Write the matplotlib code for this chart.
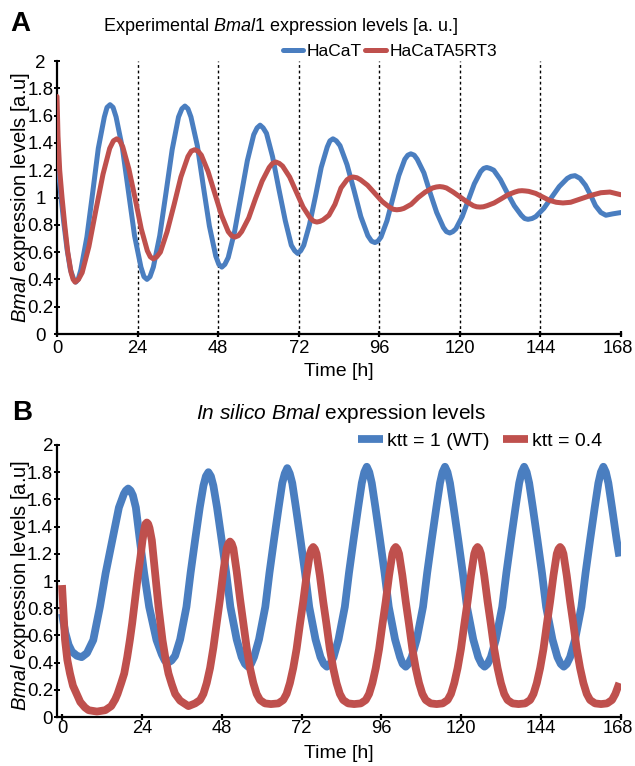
import matplotlib
matplotlib.use("Agg")
import matplotlib.pyplot as plt
from matplotlib.ticker import FuncFormatter
from matplotlib.transforms import ScaledTranslation

plt.rcParams['font.family'] = ['Liberation Sans', 'DejaVu Sans']
plt.rcParams['mathtext.fontset'] = 'custom'
plt.rcParams['mathtext.rm'] = 'Liberation Sans'
plt.rcParams['mathtext.it'] = 'Liberation Sans:italic'
plt.rcParams['mathtext.bf'] = 'Liberation Sans:bold'

# ---------------- data ----------------
x_ticks = [0, 24, 48, 72, 96, 120, 144, 168]
y_ticks = [0, 0.2, 0.4, 0.6, 0.8, 1.0, 1.2, 1.4, 1.6, 1.8, 2.0]
day_lines = [24, 48, 72, 96, 120, 144]

# Panel A: experimental
t_hacat = [0, 1, 2, 3, 4, 5, 5.6, 6.3, 7.1, 8.9, 10.6, 12.3, 14.1, 14.9, 15.8, 16.7, 17.6,
           19.5, 21.3, 23.1, 25.0, 25.9, 26.8, 27.7, 28.7, 30.6, 32.5, 34.3, 36.2, 37.2,
           38.1, 39.0, 39.9, 41.8, 43.6, 45.4, 47.3, 48.2, 49.1, 50.0, 51.0, 52.9, 54.8,
           56.7, 58.6, 59.6, 60.5, 61.4, 62.4, 64.2, 66.1, 68.0, 69.8, 70.8, 71.7, 72.6,
           73.5, 75.2, 77.0, 78.7, 80.5, 81.3, 82.2, 83.2, 84.3, 86.4, 88.5, 90.5, 92.6,
           93.7, 94.7, 95.6, 96.5, 98.3, 100.1, 101.8, 103.6, 104.5, 105.4, 106.4, 107.3,
           109.3, 111.2, 113.1, 115.1, 116.0, 117.0, 117.9, 118.8, 120.7, 122.5, 124.3,
           126.2, 127.1, 128.0, 129.0, 130.1, 132.1, 134.2, 136.2, 138.3, 139.3, 140.3,
           141.5, 142.6, 145.0, 147.3, 149.6, 152.0, 153.1, 154.3, 155.8, 157.4, 158.9,
           160.4, 162.0, 163.5, 165.5, 168]
v_hacat = [1.32, 1.05, 0.82, 0.62, 0.47, 0.40, 0.38, 0.40, 0.47, 0.71, 1.03, 1.36, 1.59,
           1.66, 1.68, 1.66, 1.59, 1.36, 1.04, 0.72, 0.49, 0.42, 0.40, 0.42, 0.49, 0.72,
           1.04, 1.35, 1.59, 1.65, 1.67, 1.65, 1.59, 1.38, 1.08, 0.79, 0.57, 0.51, 0.49,
           0.51, 0.56, 0.75, 1.01, 1.27, 1.46, 1.51, 1.53, 1.51, 1.47, 1.30, 1.06, 0.83,
           0.65, 0.61, 0.59, 0.61, 0.65, 0.80, 1.01, 1.22, 1.37, 1.415, 1.43, 1.415, 1.38,
           1.24, 1.05, 0.86, 0.72, 0.68, 0.67, 0.68, 0.71, 0.83, 1.00, 1.16, 1.28, 1.31,
           1.32, 1.31, 1.28, 1.18, 1.03, 0.89, 0.78, 0.75, 0.74, 0.75, 0.77, 0.86, 0.98,
           1.10, 1.19, 1.213, 1.22, 1.213, 1.20, 1.13, 1.03, 0.94, 0.87, 0.846, 0.84,
           0.846, 0.86, 0.92, 1.00, 1.08, 1.14, 1.155, 1.16, 1.14, 1.09, 1.02, 0.94, 0.89,
           0.87, 0.88, 0.89]

t_a5rt3 = [0, 0.3, 0.8, 1.5, 2.3, 3.2, 4.2, 4.8, 5.4, 6.4, 7.5, 9.5, 11.6, 13.7, 15.7,
           16.8, 17.8, 18.7, 19.6, 21.4, 23.3, 25.1, 26.9, 27.8, 28.7, 29.7, 30.8, 32.8,
           34.9, 36.9, 39.0, 40.0, 41.0, 42.0, 43.0, 45.0, 47.0, 49.0, 51.0, 52.0, 53.0,
           54.0, 55.0, 57.1, 59.1, 61.1, 63.2, 64.2, 65.2, 66.2, 67.2, 69.3, 71.3, 73.3,
           75.4, 76.4, 77.4, 78.3, 79.2, 81.0, 82.8, 84.6, 86.4, 87.3, 88.2, 89.3, 90.4,
           92.5, 94.7, 96.9, 99.0, 100.1, 101.2, 102.3, 103.3, 105.5, 107.6, 109.7, 111.9,
           113.0, 114.0, 115.0, 116.0, 118.0, 120.0, 122.0, 124.0, 125.0, 126.0, 127.0,
           128.1, 130.2, 132.3, 134.3, 136.4, 137.5, 138.5, 139.5, 140.5, 142.6, 144.6,
           146.6, 148.7, 150.7, 153.0, 156.0, 159.0, 162.0, 164.7, 168.0]
v_a5rt3 = [1.74, 1.45, 1.20, 1.00, 0.80, 0.60, 0.45, 0.40, 0.38, 0.40, 0.45, 0.64, 0.91,
           1.17, 1.36, 1.415, 1.43, 1.415, 1.37, 1.21, 0.99, 0.77, 0.61, 0.565, 0.55,
           0.565, 0.60, 0.75, 0.95, 1.15, 1.30, 1.34, 1.35, 1.34, 1.31, 1.19, 1.03, 0.87,
           0.75, 0.72, 0.71, 0.72, 0.75, 0.85, 0.99, 1.12, 1.22, 1.25, 1.26, 1.25, 1.23,
           1.15, 1.04, 0.93, 0.85, 0.827, 0.82, 0.825, 0.835, 0.87, 0.95, 1.07, 1.13,
           1.145, 1.15, 1.145, 1.13, 1.09, 1.03, 0.97, 0.93, 0.914, 0.91, 0.913, 0.92,
           0.95, 1.00, 1.04, 1.07, 1.077, 1.08, 1.077, 1.07, 1.04, 1.005, 0.97, 0.94,
           0.932, 0.93, 0.932, 0.94, 0.96, 0.99, 1.02, 1.04, 1.048, 1.05, 1.048, 1.045,
           1.03, 1.005, 0.98, 0.965, 0.96, 0.965, 0.99, 1.015, 1.035, 1.04, 1.02]

# Panel B: in silico
t_wt = [0, 1, 2, 3, 4.5, 5.9, 7.5, 9.4, 11.4, 13.1, 15.1, 17.1, 18.6, 19.2, 19.9, 20.6,
        21.3, 22.2, 23.4, 24.7, 26.2, 28.4, 30.0, 30.9, 31.9, 32.9,
        34.0, 35.5, 37.4, 38.65, 40.0, 41.4, 42.5, 43.25, 44.0, 44.75, 45.5, 46.6, 48.0,
        49.35, 50.6, 52.5, 54.0, 55.0, 55.9,
        56.8, 57.7, 59.2, 61.1, 62.35, 63.7, 65.1, 66.2, 66.95, 67.7, 68.45, 69.2, 70.3,
        71.7, 73.05, 74.3, 76.2, 77.7, 78.7, 79.6,
        80.6, 81.6, 83.1, 85.0, 86.25, 87.6, 89.0, 90.1, 90.85, 91.6, 92.35, 93.1, 94.2,
        95.6, 96.95, 98.2, 100.1, 101.6, 102.4, 103.3,
        104.1, 105.1, 106.6, 108.5, 109.75, 111.1, 112.5, 113.6, 114.35, 115.1, 115.85,
        116.6, 117.7, 119.1, 120.45, 121.7, 123.6, 125.1, 126.1, 127.0,
        127.9, 128.9, 130.4, 132.3, 133.55, 134.9, 136.3, 137.4, 138.15, 138.9, 139.65,
        140.4, 141.5, 142.9, 144.25, 145.5, 147.4, 148.9, 149.9, 150.8,
        151.7, 152.7, 154.2, 156.1, 157.35, 158.7, 160.1, 161.2, 161.95, 162.7, 163.45,
        164.2, 165.3, 166.7, 167.5]
v_wt = [0.76, 0.62, 0.53, 0.48, 0.45, 0.44, 0.47, 0.566, 0.81, 1.056, 1.30, 1.54, 1.64,
        1.665, 1.68, 1.665, 1.63, 1.54, 1.30, 1.056, 0.81, 0.566, 0.46, 0.415, 0.40, 0.415,
        0.45, 0.57, 0.81, 1.06, 1.30, 1.54, 1.70, 1.77, 1.80, 1.77, 1.70, 1.54, 1.30,
        1.06, 0.81, 0.57, 0.44, 0.39, 0.37,
        0.39, 0.44, 0.57, 0.81, 1.06, 1.30, 1.54, 1.72, 1.79, 1.83, 1.79, 1.72, 1.54,
        1.30, 1.06, 0.81, 0.57, 0.44, 0.39, 0.37,
        0.39, 0.44, 0.57, 0.81, 1.06, 1.30, 1.54, 1.72, 1.80, 1.84, 1.80, 1.72, 1.54,
        1.30, 1.06, 0.81, 0.57, 0.44, 0.39, 0.37,
        0.39, 0.44, 0.57, 0.81, 1.06, 1.30, 1.54, 1.72, 1.80, 1.84, 1.80, 1.72, 1.54,
        1.30, 1.06, 0.81, 0.57, 0.44, 0.39, 0.37,
        0.39, 0.44, 0.57, 0.81, 1.06, 1.30, 1.54, 1.72, 1.80, 1.84, 1.80, 1.72, 1.54,
        1.30, 1.06, 0.81, 0.57, 0.44, 0.39, 0.37,
        0.39, 0.44, 0.57, 0.81, 1.06, 1.30, 1.54, 1.72, 1.80, 1.84, 1.80, 1.72, 1.54,
        1.30, 1.18]

t_ktt04 = [0, 0.9, 1.6, 2.4, 3.3, 4.4, 5.5, 6.9, 8.0, 10.5, 13.0, 14.8, 16.0, 16.7, 17.8,
           18.7, 19.6, 20.4, 21.1, 21.7, 22.3, 22.9, 23.6, 24.2, 24.8, 25.1, 25.5, 25.9,
           26.3, 27.0, 28.0, 29.0, 30.2, 31.1, 32.0, 33.0, 34.0, 35.5, 38.0,
           40.0, 41.5, 42.5, 43.5, 44.5, 45.5, 46.5, 47.5, 48.5, 49.5, 50.0, 50.5, 51.0,
           51.5, 52.5, 53.5, 54.5, 55.5, 56.5, 57.5, 58.5, 59.5, 61.0, 62.8,
           65.0, 66.5, 67.5, 68.5, 69.5, 70.5, 71.5, 72.5, 73.5, 74.5, 75.0, 75.5, 76.0,
           76.5, 77.5, 78.5, 79.5, 80.5, 81.5, 82.5, 83.5, 84.5, 86.0, 87.8,
           89.8, 91.3, 92.3, 93.3, 94.3, 95.3, 96.3, 97.3, 98.3, 99.3, 99.8, 100.3, 100.8,
           101.3, 102.3, 103.3, 104.3, 105.3, 106.3, 107.3, 108.3, 109.3, 110.8, 112.6,
           114.4, 115.9, 116.9, 117.9, 118.9, 119.9, 120.9, 121.9, 122.9, 123.9, 124.4,
           124.9, 125.4, 125.9, 126.9, 127.9, 128.9, 129.9, 130.9, 131.9, 132.9, 133.9,
           135.4, 137.2,
           139.2, 140.7, 141.7, 142.7, 143.7, 144.7, 145.7, 146.7, 147.7, 148.7, 149.2,
           149.7, 150.2, 150.7, 151.7, 152.7, 153.7, 154.7, 155.7, 156.7, 157.7, 158.7,
           160.2, 162.0,
           163.8, 165.3, 166.3, 167.5]
v_ktt04 = [0.97, 0.57, 0.42, 0.32, 0.23, 0.17, 0.11, 0.07, 0.05, 0.04, 0.05, 0.08, 0.13,
           0.17, 0.25, 0.32, 0.44, 0.566, 0.69, 0.81, 0.93, 1.056, 1.18, 1.30, 1.39, 1.42,
           1.43, 1.42, 1.39, 1.30, 1.056, 0.81, 0.566, 0.43, 0.32, 0.24, 0.17, 0.12, 0.08,
           0.10, 0.125, 0.17, 0.25, 0.36, 0.51, 0.69, 0.87, 1.07, 1.24, 1.275, 1.29, 1.275,
           1.24, 1.07, 0.87, 0.69, 0.51, 0.36, 0.25, 0.17, 0.125, 0.10, 0.095,
           0.10, 0.125, 0.17, 0.25, 0.36, 0.50, 0.68, 0.85, 1.04, 1.20, 1.235, 1.25, 1.235,
           1.20, 1.04, 0.85, 0.68, 0.50, 0.36, 0.25, 0.17, 0.125, 0.10, 0.095,
           0.10, 0.125, 0.17, 0.25, 0.36, 0.50, 0.68, 0.85, 1.04, 1.20, 1.235, 1.25, 1.235,
           1.20, 1.04, 0.85, 0.68, 0.50, 0.36, 0.25, 0.17, 0.125, 0.10, 0.095,
           0.10, 0.125, 0.17, 0.25, 0.36, 0.50, 0.68, 0.85, 1.04, 1.20, 1.235,
           1.25, 1.235, 1.20, 1.04, 0.85, 0.68, 0.50, 0.36, 0.25, 0.17, 0.125,
           0.10, 0.095,
           0.10, 0.125, 0.17, 0.25, 0.36, 0.50, 0.68, 0.85, 1.04, 1.20, 1.235,
           1.25, 1.235, 1.20, 1.04, 0.85, 0.68, 0.50, 0.36, 0.25, 0.17, 0.125,
           0.10, 0.095,
           0.10, 0.125, 0.17, 0.25]

BLUE = '#4A7EC0'
RED = '#BF504D'

W, H = 635, 766
fig = plt.figure(figsize=(W / 100, H / 100), dpi=100)


def fx(px):
    return px / W


def fy(py):
    return 1 - py / H


fmt = FuncFormatter(lambda v, p: '%g' % round(v, 1))


def style_axes(ax, xl, ylab_pad, ylab_ha, xpad):
    ax.set_xlim(*xl)
    ax.set_ylim(0, 2)
    ax.set_xticks(x_ticks)
    ax.set_yticks(y_ticks)
    ax.yaxis.set_major_formatter(fmt)
    for s in ['top', 'right']:
        ax.spines[s].set_visible(False)
    for s in ['left', 'bottom']:
        ax.spines[s].set_linewidth(1.6)
    ax.tick_params(axis='x', direction='inout', length=5, width=1.6, labelsize=13.2, pad=xpad)
    ax.tick_params(axis='y', direction='inout', length=5, width=1.4, labelsize=13.5, pad=ylab_pad)
    for lab in ax.get_yticklabels():
        lab.set_horizontalalignment(ylab_ha)
    # the last x label sits slightly left of its tick, as in the reference
    last = ax.get_xticklabels()[-1]
    last.set_transform(last.get_transform() + ScaledTranslation(-3 / 100, 0, fig.dpi_scale_trans))


# ---------------- Panel A ----------------
axA = fig.add_axes([fx(57), fy(334), fx(564), 273 / H])
for d in day_lines:
    axA.axvline(d, ymin=0, ymax=1, color='black', lw=1.0, linestyle=(0, (2, 2)), zorder=1)
axA.plot(t_hacat, v_hacat, color=BLUE, lw=3.6, solid_joinstyle='round',
         solid_capstyle='round', label='HaCaT', zorder=3)
axA.plot(t_a5rt3, v_a5rt3, color=RED, lw=3.6, solid_joinstyle='round',
         solid_capstyle='round', label='HaCaTA5RT3', zorder=4)
style_axes(axA, (0, 168), 9.5, 'center', 1.5)
axA.legend(loc='center', bbox_to_anchor=(fx(390), fy(51)), bbox_transform=fig.transFigure,
           ncol=2, frameon=False, fontsize=12.5, handlelength=1.2, handletextpad=0.2,
           columnspacing=0.2, borderpad=0, borderaxespad=0)

fig.text(fx(280), fy(31), r'Experimental $\it{Bmal1}$ expression levels [a. u.]',
         ha='center', va='baseline', fontsize=13)
fig.text(fx(10), fy(31), 'A', ha='left', va='baseline', fontsize=20, fontweight='bold')
fig.text(fx(21), fy(197), r'$\it{Bmal}$ expression levels [a.u]', rotation=90,
         ha='center', va='center', fontsize=14.5)
fig.text(fx(339), fy(376), 'Time [h]', ha='center', va='baseline', fontsize=14)

# ---------------- Panel B ----------------
axB = fig.add_axes([fx(57), fy(717), fx(564), 272 / H])
axB.plot(t_wt, v_wt, color=BLUE, lw=5.6, solid_joinstyle='round',
         solid_capstyle='butt', label='ktt = 1 (WT)', zorder=3)
axB.plot(t_ktt04, v_ktt04, color=RED, lw=5.6, solid_joinstyle='round',
         solid_capstyle='butt', label='ktt = 0.4', zorder=4)
style_axes(axB, (-1.5, 168), 0.3, 'right', 0)
axB.legend(loc='center', bbox_to_anchor=(fx(480), fy(441)), bbox_transform=fig.transFigure,
           ncol=2, frameon=False, fontsize=14, handlelength=1.3, handletextpad=0.2,
           columnspacing=0.7, borderpad=0, borderaxespad=0)

fig.text(fx(341), fy(419), r'$\it{In\ silico\ Bmal}$ expression levels',
         ha='center', va='baseline', fontsize=15)
fig.text(fx(12), fy(420), 'B', ha='left', va='baseline', fontsize=20, fontweight='bold')
fig.text(fx(21), fy(585), r'$\it{Bmal}$ expression levels [a.u]', rotation=90,
         ha='center', va='center', fontsize=14.5)
fig.text(fx(339), fy(758), 'Time [h]', ha='center', va='baseline', fontsize=14)

fig.savefig('out.png', dpi=100)
